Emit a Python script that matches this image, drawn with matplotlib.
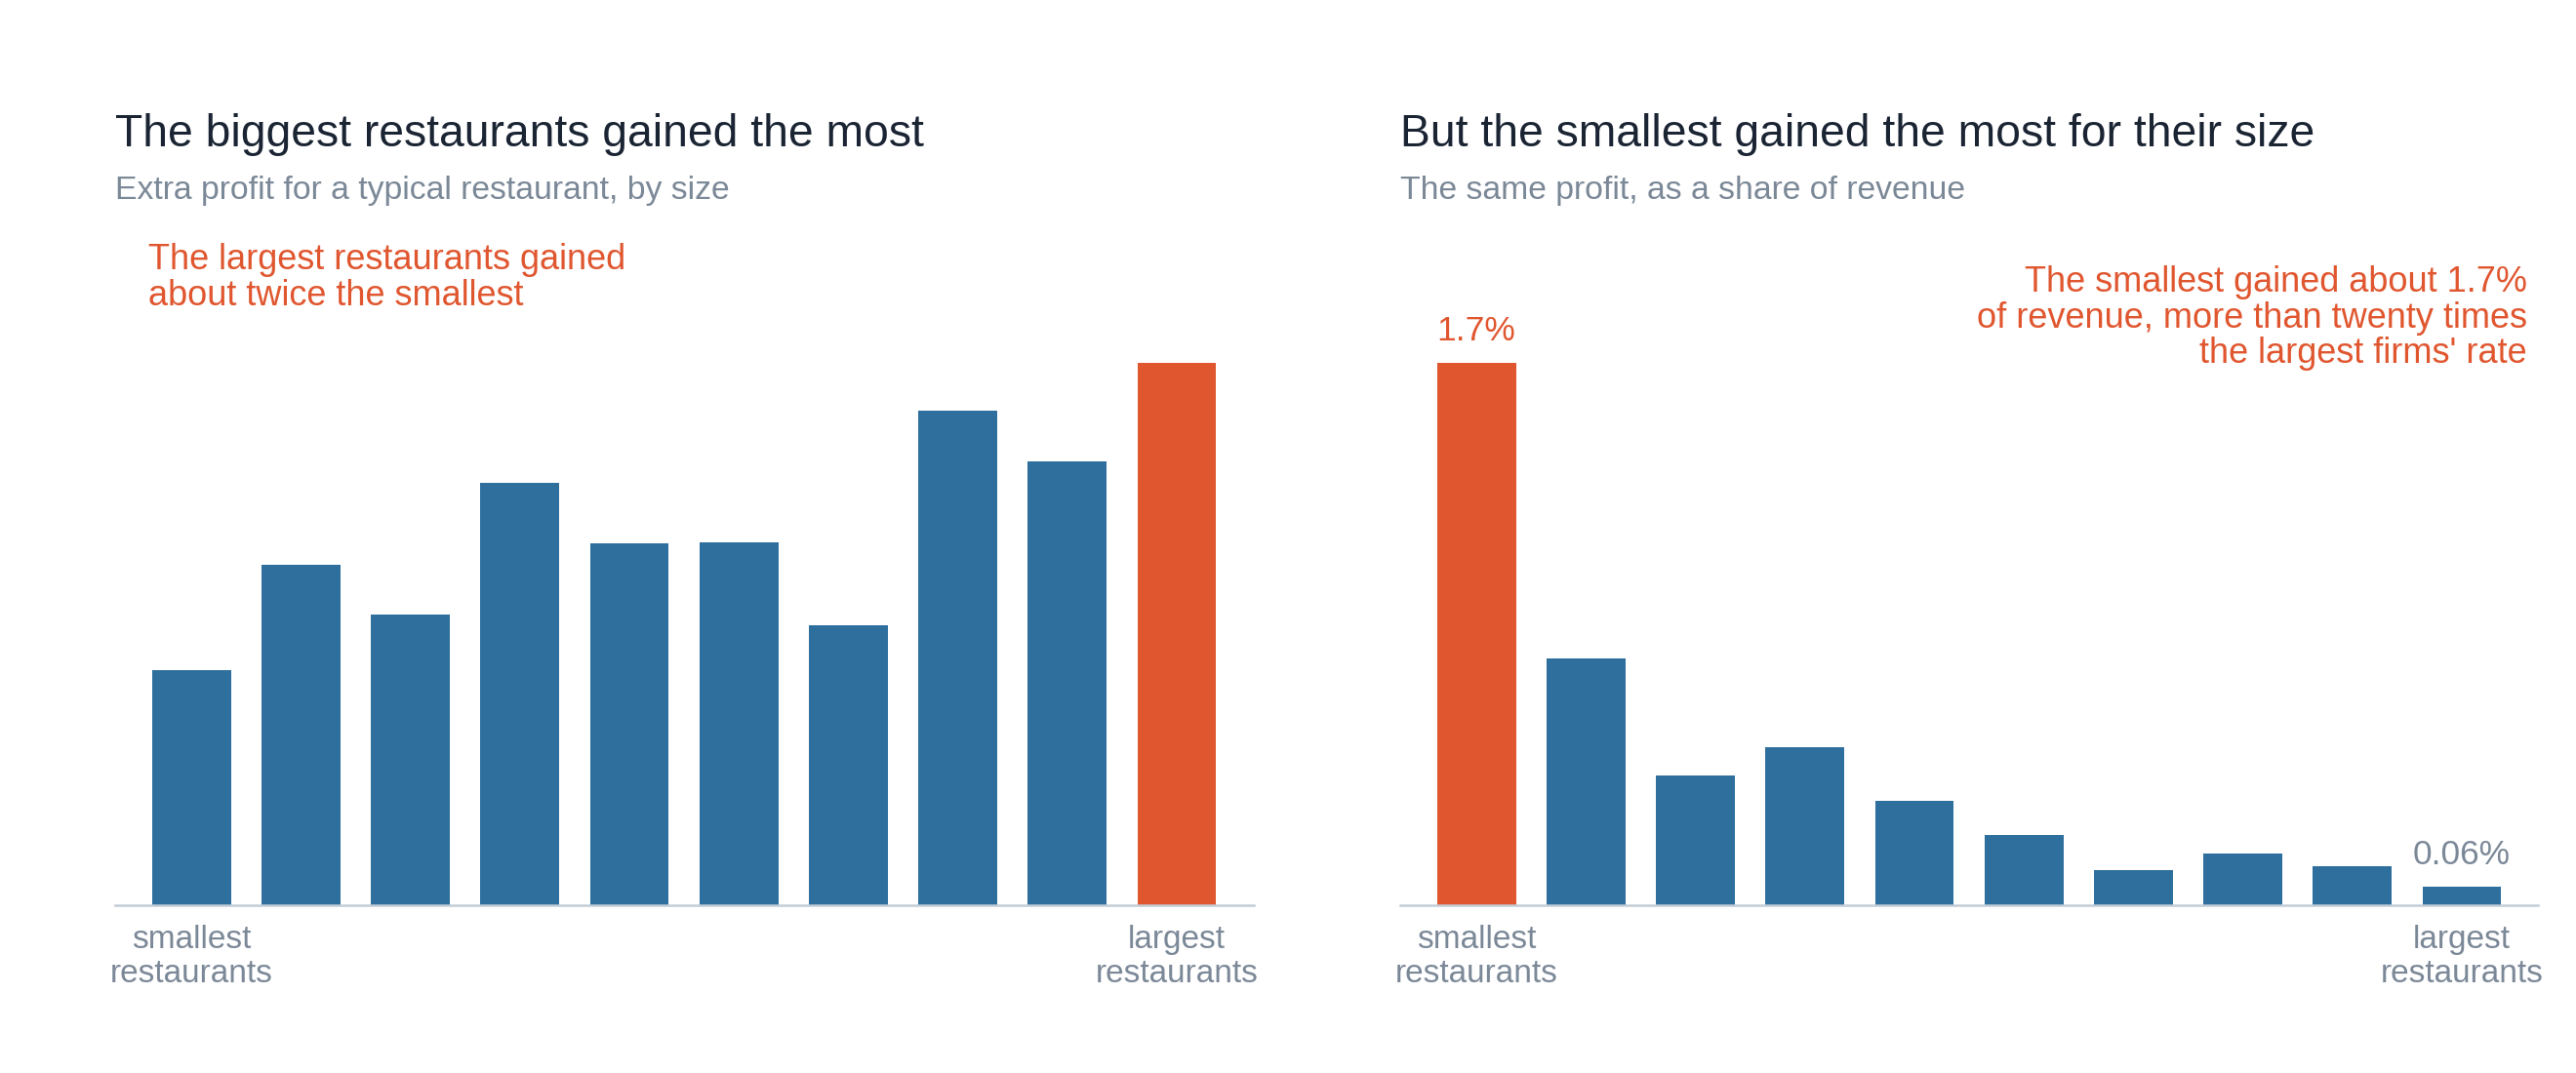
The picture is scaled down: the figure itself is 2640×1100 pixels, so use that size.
import matplotlib.pyplot as plt

plt.rcParams['font.family'] = ['Liberation Sans', 'DejaVu Sans']

# size groups, smallest -> largest
groups = list(range(10))
# extra profit for a typical restaurant (relative, largest = 100)
profit = [43.4, 62.8, 53.6, 77.9, 66.7, 66.9, 51.7, 91.3, 81.8, 100.0]
# same profit as a share of revenue (%)
share = [1.70, 0.775, 0.408, 0.496, 0.328, 0.221, 0.110, 0.162, 0.122, 0.06]
tick_pos = [0, 9]
tick_labels = ['smallest\nrestaurants', 'largest\nrestaurants']

BLUE = '#2e6f9e'
ORANGE = '#e0562f'
DARK = '#1a2433'
GRAY = '#7b8897'
AXIS = '#c3cdd7'

fig = plt.figure(figsize=(26.4, 11), dpi=100)
ax1 = fig.add_axes([0.0446, 0.1562, 0.4420, 0.5054])
ax2 = fig.add_axes([0.5434, 0.1562, 0.4420, 0.5054])


def style(ax, values, hi):
    colors = [ORANGE if i == hi else BLUE for i in groups]
    ax.bar(groups, values, width=0.72, color=colors, zorder=2)
    ax.set_xlim(-0.7, 9.7)
    ax.set_ylim(0, max(values))
    for s in ['top', 'right', 'left']:
        ax.spines[s].set_visible(False)
    ax.spines['bottom'].set_color(AXIS)
    ax.spines['bottom'].set_linewidth(1.8)
    ax.set_yticks([])
    ax.set_xticks(tick_pos)
    ax.set_xticklabels(tick_labels, fontsize=24, color=GRAY, linespacing=1.2)
    ax.tick_params(axis='x', length=0, pad=14)


style(ax1, profit, 9)
style(ax2, share, 0)

# titles and subtitles
fig.text(0.0446, 0.8637, 'The biggest restaurants gained the most',
         fontsize=33.3, color=DARK, va='baseline', ha='left')
fig.text(0.0446, 0.8150, 'Extra profit for a typical restaurant, by size',
         fontsize=24.3, color=GRAY, va='baseline', ha='left')
fig.text(0.5434, 0.8637, 'But the smallest gained the most for their size',
         fontsize=33.3, color=DARK, va='baseline', ha='left')
fig.text(0.5434, 0.8150, 'The same profit, as a share of revenue',
         fontsize=24.3, color=GRAY, va='baseline', ha='left')

# annotations
fig.text(0.0574, 0.7735, 'The largest restaurants gained\nabout twice the smallest',
         fontsize=26, color=ORANGE, va='top', ha='left', linespacing=1.06)
fig.text(0.9809, 0.7525,
         "The smallest gained about 1.7%\nof revenue, more than twenty times\nthe largest firms' rate",
         fontsize=26, color=ORANGE, va='top', ha='right', linespacing=1.05)

# value labels
ax2.annotate(f'{share[0]:.1f}%', (0, share[0]), xytext=(0, 12), textcoords='offset points',
             ha='center', va='bottom', fontsize=25.5, color=ORANGE, annotation_clip=False)
ax2.annotate(f'{share[-1]:.2f}%', (9, share[-1]), xytext=(0, 11), textcoords='offset points',
             ha='center', va='bottom', fontsize=25.5, color=GRAY, annotation_clip=False)

fig.savefig('out.png', dpi=100, facecolor='white')
